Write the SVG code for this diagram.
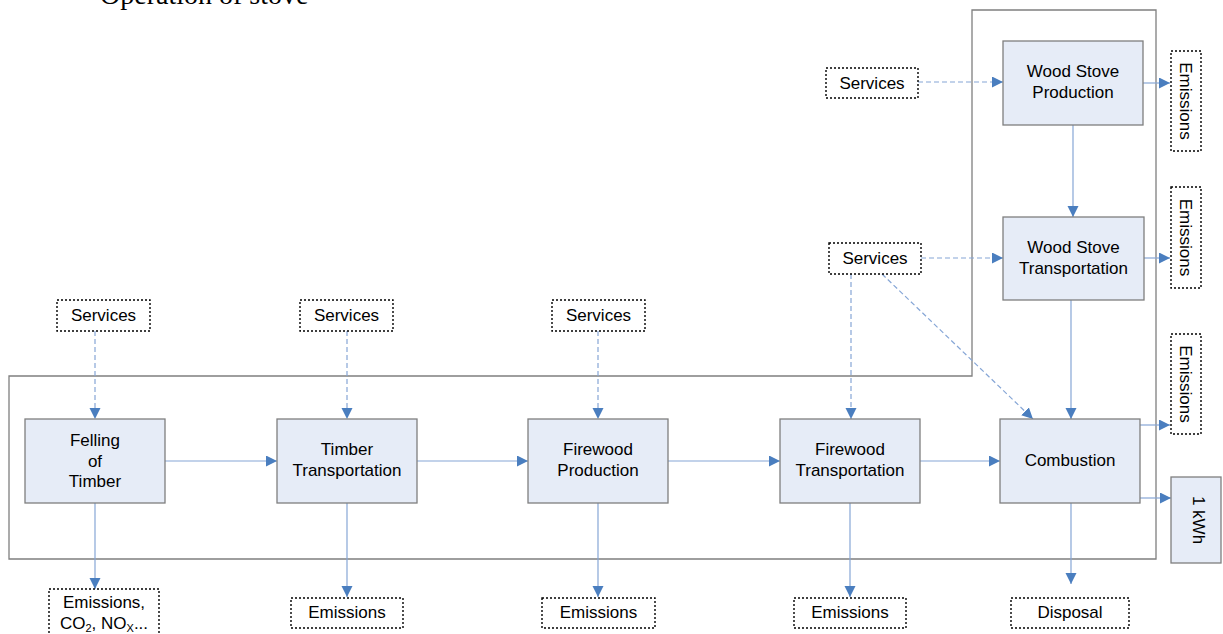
<svg xmlns="http://www.w3.org/2000/svg" width="1223" height="634" viewBox="0 0 1223 634">
<style>
.proc{fill:#e6ecf7;stroke:#7f7f7f;stroke-width:1.3}
.dash{fill:#ffffff;stroke:#000000;stroke-width:1.4;stroke-dasharray:2,2}
.t{font-family:"Liberation Sans",Arial,sans-serif;font-size:17px;fill:#000;text-anchor:middle}
.frame{fill:none;stroke:#7f7f7f;stroke-width:1.3}
.c{fill:none;stroke:#86a6d6;stroke-width:1.2}
.cd{fill:none;stroke:#86a6d6;stroke-width:1.2;stroke-dasharray:5,3}
</style>
<defs>
<marker id="ah" markerUnits="userSpaceOnUse" markerWidth="12" markerHeight="12" refX="11" refY="5.5" orient="auto">
<path d="M0,0 L11,5.5 L0,11 z" fill="#4a7ebf"/>
</marker>
</defs>
<rect width="1223" height="634" fill="#ffffff"/>
<text x="100" y="4" font-family="'Liberation Serif','Times New Roman',serif" font-size="28" fill="#000">Operation of stove</text>
<path class="frame" d="M972,376 V10 H1156 V559 H9 V376 Z"/>

<g id="connectors">
<path class="cd" d="M918,82 H1003" marker-end="url(#ah)"/>
<path class="c" d="M1073,125 V217" marker-end="url(#ah)"/>
<path class="c" d="M1143,83 H1170" marker-end="url(#ah)"/>
<path class="cd" d="M921,258 H1003" marker-end="url(#ah)"/>
<path class="c" d="M1144,258 H1170" marker-end="url(#ah)"/>
<path class="c" d="M1071,300 V419" marker-end="url(#ah)"/>
<path class="cd" d="M851,274 V419" marker-end="url(#ah)"/>
<path class="cd" d="M882,274 L1033,419" marker-end="url(#ah)"/>
<path class="c" d="M1140,425 H1170" marker-end="url(#ah)"/>
<path class="c" d="M1140,498 H1171" marker-end="url(#ah)"/>
<path class="cd" d="M95,331 V419" marker-end="url(#ah)"/>
<path class="cd" d="M347,331 V419" marker-end="url(#ah)"/>
<path class="cd" d="M598,331 V419" marker-end="url(#ah)"/>
<path class="c" d="M165,461 H277" marker-end="url(#ah)"/>
<path class="c" d="M417,461 H528" marker-end="url(#ah)"/>
<path class="c" d="M668,461 H780" marker-end="url(#ah)"/>
<path class="c" d="M920,461 H1000" marker-end="url(#ah)"/>
<path class="c" d="M95,503 V589" marker-end="url(#ah)"/>
<path class="c" d="M347,503 V597" marker-end="url(#ah)"/>
<path class="c" d="M598,503 V597" marker-end="url(#ah)"/>
<path class="c" d="M850,503 V597" marker-end="url(#ah)"/>
<path class="c" d="M1071,503 V584" marker-end="url(#ah)"/>
</g>

<g id="services-top"><rect class="dash" x="826" y="68" width="92" height="30"/><text class="t" x="872" y="88.5">Services</text></g>
<g id="wood-stove-production"><rect class="proc" x="1003" y="41" width="140" height="84"/><text class="t" x="1073" y="77">Wood Stove</text><text class="t" x="1073" y="98">Production</text></g>
<g id="emissions-1"><rect class="dash" x="1171" y="51" width="30" height="100"/><text class="t" transform="translate(1186,101) rotate(90)" y="6">Emissions</text></g>
<g id="services-mid"><rect class="dash" x="829" y="243" width="92" height="31"/><text class="t" x="875" y="264">Services</text></g>
<g id="wood-stove-transportation"><rect class="proc" x="1003" y="217" width="141" height="83"/><text class="t" x="1073.5" y="253">Wood Stove</text><text class="t" x="1073.5" y="274">Transportation</text></g>
<g id="emissions-2"><rect class="dash" x="1171" y="187" width="30" height="101"/><text class="t" transform="translate(1186,237.5) rotate(90)" y="6">Emissions</text></g>
<g id="emissions-3"><rect class="dash" x="1171" y="334" width="30" height="100"/><text class="t" transform="translate(1186,384) rotate(90)" y="6">Emissions</text></g>
<g id="kwh"><rect class="proc" x="1171" y="477" width="50" height="86"/><text class="t" transform="translate(1199,520) rotate(90)" y="6">1 kWh</text></g>

<g id="services-1"><rect class="dash" x="57" y="300" width="93" height="31"/><text class="t" x="103.5" y="321">Services</text></g>
<g id="services-2"><rect class="dash" x="300" y="300" width="93" height="31"/><text class="t" x="346.5" y="321">Services</text></g>
<g id="services-3"><rect class="dash" x="552" y="300" width="93" height="31"/><text class="t" x="598.5" y="321">Services</text></g>

<g id="felling"><rect class="proc" x="25" y="419" width="140" height="84"/><text class="t" x="95" y="446">Felling</text><text class="t" x="95" y="466.5">of</text><text class="t" x="95" y="487">Timber</text></g>
<g id="timber-transportation"><rect class="proc" x="277" y="419" width="140" height="84"/><text class="t" x="347" y="455">Timber</text><text class="t" x="347" y="476">Transportation</text></g>
<g id="firewood-production"><rect class="proc" x="528" y="419" width="140" height="84"/><text class="t" x="598" y="455">Firewood</text><text class="t" x="598" y="476">Production</text></g>
<g id="firewood-transportation"><rect class="proc" x="780" y="419" width="140" height="84"/><text class="t" x="850" y="455">Firewood</text><text class="t" x="850" y="476">Transportation</text></g>
<g id="combustion"><rect class="proc" x="1000" y="419" width="140" height="84"/><text class="t" x="1070" y="466">Combustion</text></g>

<g id="emissions-felling"><rect class="dash" x="49" y="589" width="110" height="60"/><text class="t" x="104" y="608">Emissions,</text><text class="t" x="104" y="629">CO<tspan font-size="11" dy="3">2</tspan><tspan dy="-3">, NO</tspan><tspan font-size="11" dy="3">X</tspan><tspan dy="-3">...</tspan></text></g>
<g id="emissions-timber"><rect class="dash" x="291" y="598" width="112" height="30"/><text class="t" x="347" y="618">Emissions</text></g>
<g id="emissions-firewood-prod"><rect class="dash" x="542" y="598" width="113" height="30"/><text class="t" x="598.5" y="618">Emissions</text></g>
<g id="emissions-firewood-trans"><rect class="dash" x="794" y="598" width="112" height="30"/><text class="t" x="850" y="618">Emissions</text></g>
<g id="disposal"><rect class="dash" x="1011" y="598" width="118" height="30"/><text class="t" x="1070" y="618">Disposal</text></g>
</svg>
